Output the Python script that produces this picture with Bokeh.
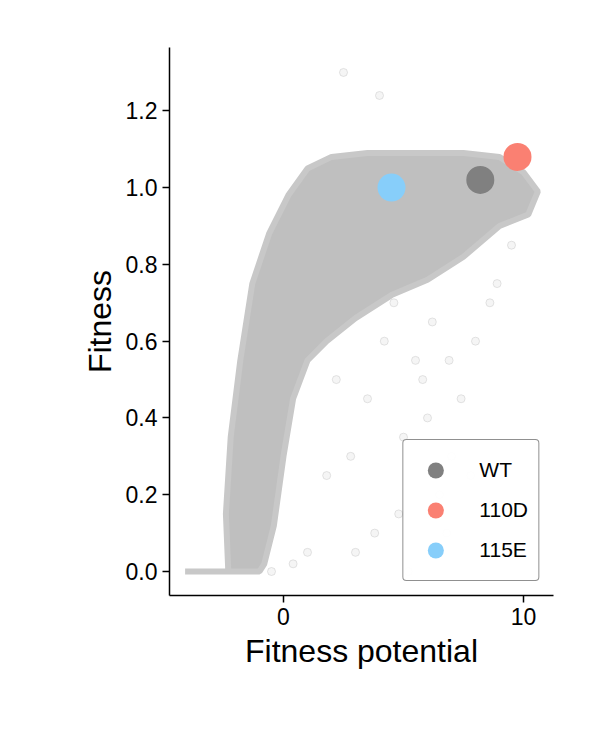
from bokeh.plotting import figure
from bokeh.models import Range1d, Legend, LegendItem, FixedTicker
from bokeh.embed import file_html
from bokeh.resources import INLINE

# dense cloud outline (fitness potential, fitness)
cloud_x = [-4.1, -2.3, -2.4, -2.2, -1.8, -1.3, -0.6, 0.2, 1.0, 2.0, 3.5, 5.5, 7.5, 9.0, 10.0, 10.6,
           10.2, 9.0, 7.5, 6.0, 4.5, 3.0, 1.8, 1.0, 0.4, 0.0, -0.4, -0.8, -1.0, -4.1]
cloud_y = [0.0, 0.0, 0.15, 0.35, 0.55, 0.75, 0.88, 0.98, 1.05, 1.08, 1.09, 1.09, 1.09, 1.08, 1.04, 0.99,
           0.93, 0.90, 0.82, 0.76, 0.72, 0.66, 0.60, 0.55, 0.45, 0.30, 0.12, 0.02, 0.0, 0.0]

# sparse outliers
out_x = [2.5, 4.0, 5.5, 6.0, 7.0, 6.5, 5.0, 3.5, 8.0, 6.8, 4.8, 2.8, 1.8, 3.0, 5.8,
         7.4, 8.6, 6.2, 4.2, 1.0, 0.4, 7.8, 9.5, 5.2, 3.8, -0.5, 2.2, 6.9, 8.9, 4.6]
out_y = [1.3, 1.24, 0.55, 0.4, 0.3, 0.2, 0.35, 0.45, 0.6, 0.1, 0.15, 0.3, 0.25, 0.05, 0.5,
         0.45, 0.7, 0.65, 0.6, 0.05, 0.02, 0.25, 0.85, 0.0, 0.1, 0.0, 0.5, 0.55, 0.75, 0.7]

var_names = ["WT", "110D", "115E"]
var_x = [8.2, 9.75, 4.5]
var_y = [1.02, 1.08, 1.0]
var_colors = ["#808080", "#fa8072", "#87cefa"]

FONT = "Liberation Sans"

p = figure(width=592, height=742, output_backend="svg", toolbar_location=None,
           min_border_left=169, min_border_right=39, min_border_top=47, min_border_bottom=147,
           x_range=Range1d(-4.75, 11.25), y_range=Range1d(-0.0625, 1.365))
p.outline_line_color = None
p.grid.visible = False
p.background_fill_color = "white"

p.patch(cloud_x, cloud_y, fill_color="#bfbfbf", line_color="#c8c8c8", line_width=6)
p.scatter(out_x, out_y, size=8, fill_color="#bfbfbf", fill_alpha=0.15,
          line_color="#bfbfbf", line_alpha=0.4)

items = []
for n, x, y, c in zip(var_names, var_x, var_y, var_colors):
    r = p.scatter([x], [y], size=28, fill_color=c, line_color=None)
    items.append(LegendItem(label=n, renderers=[r]))

leg = Legend(items=items, location="bottom_right", label_text_font=FONT,
             label_text_font_size="21px", label_text_color="black",
             glyph_width=44, glyph_height=40,
             border_line_color="#222222", border_line_width=1.5, border_radius=4,
             margin=14, padding=10, spacing=0, label_standoff=22)
p.add_layout(leg)

p.xaxis.ticker = FixedTicker(ticks=[0, 10])
p.yaxis.ticker = FixedTicker(ticks=[0.0, 0.2, 0.4, 0.6, 0.8, 1.0, 1.2])
p.yaxis.major_label_overrides = {0: "0.0", 1: "1.0"}
p.xaxis.axis_label = "Fitness potential"
p.yaxis.axis_label = "Fitness"
for ax in (p.xaxis, p.yaxis):
    ax.axis_label_text_font = FONT
    ax.axis_label_text_font_size = "32px"
    ax.axis_label_text_font_style = "normal"
    ax.axis_label_text_color = "black"
    ax.major_label_text_font = FONT
    ax.major_label_text_font_size = "23px"
    ax.major_label_text_color = "black"
    ax.minor_tick_line_color = None
    ax.major_tick_out = 7
    ax.major_tick_in = 0
    ax.axis_line_width = 1.5
    ax.axis_line_color = "black"
    ax.major_tick_line_width = 1.5

open("out.html", "w").write(file_html(p, INLINE))
